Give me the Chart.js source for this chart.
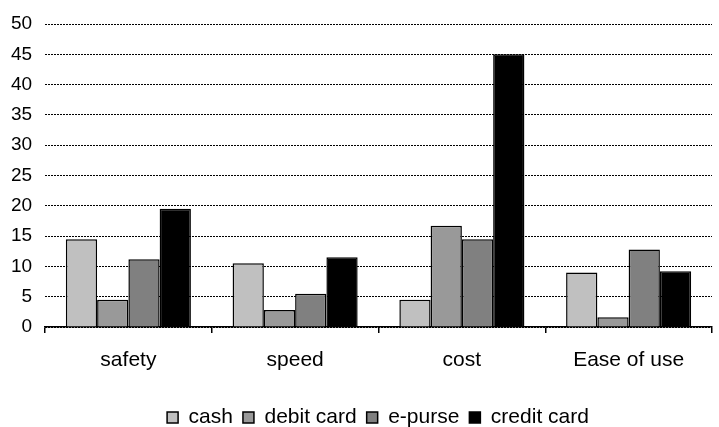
<!DOCTYPE html>
<html>
<head>
<meta charset="utf-8">
<script src="https://cdn.jsdelivr.net/npm/chart.js@4/dist/chart.umd.min.js"></script>
<style>
  html, body { margin: 0; padding: 0; background: #fff; }
  #wrap { width: 719px; height: 427px; position: relative; }
</style>
</head>
<body>
<div id="wrap"><canvas id="c"></canvas></div>
<script>
// Payment methods rated against each criterion
const categories = ['safety', 'speed', 'cost', 'Ease of use'];
const cash = [14.5, 10.5, 4.5, 9];
const debitCard = [4.5, 2.8, 16.7, 1.6];
const ePurse = [11.2, 5.5, 14.5, 12.8];
const creditCard = [19.5, 11.5, 45, 9.2];
const seriesNames = ['cash', 'debit card', 'e-purse', 'credit card'];
const seriesColors = ['#C0C0C0', '#999999', '#808080', '#000000'];
const yTicks = { min: 0, max: 50, step: 5 };

Chart.defaults.font.family = 'Arial, "Liberation Sans", sans-serif';
Chart.defaults.font.size = 21;
Chart.defaults.color = '#000';

const seriesValues = [cash, debitCard, ePurse, creditCard];

new Chart(document.getElementById('c'), {
  type: 'bar',
  data: {
    labels: categories,
    datasets: seriesValues.map((vals, i) => ({
      label: seriesNames[i],
      data: vals,
      backgroundColor: seriesColors[i],
      borderColor: '#000',
      borderWidth: 1.5,
      categoryPercentage: 0.75,
      barPercentage: 1.0
    }))
  },
  options: {
    responsive: true,
    maintainAspectRatio: false,
    animation: false,
    layout: { padding: { left: 44, right: 7, top: 24, bottom: -11 } },
    plugins: {
      tooltip: { enabled: false },
      legend: {
        position: 'bottom',
        labels: {
          boxWidth: 11,
          boxHeight: 11,
          padding: 10,
          color: '#000',
          font: { size: 21 }
        }
      }
    },
    scales: {
      x: {
        offset: true,
        grid: {
          offset: true,
          drawOnChartArea: false,
          drawTicks: true,
          tickLength: 6,
          color: '#000',
          lineWidth: 1.5
        },
        border: { display: true, color: '#000', width: 1.5 },
        ticks: { padding: 15, color: '#000', font: { size: 21 } },
        afterFit: (axis) => { axis.height = 70; }
      },
      y: {
        min: yTicks.min,
        max: yTicks.max,
        // labels sit to the left of the plot, right-aligned just before the grid
        ticks: {
          stepSize: yTicks.step,
          mirror: true,
          crossAlign: 'far',
          padding: -34,
          color: '#000',
          font: { size: 19 }
        },
        grid: { drawTicks: false, color: '#000', lineWidth: 1 },
        border: { display: false, dash: [2, 1] },
        afterFit: (axis) => { axis.width = 1; }
      }
    }
  }
});
</script>
</body>
</html>
